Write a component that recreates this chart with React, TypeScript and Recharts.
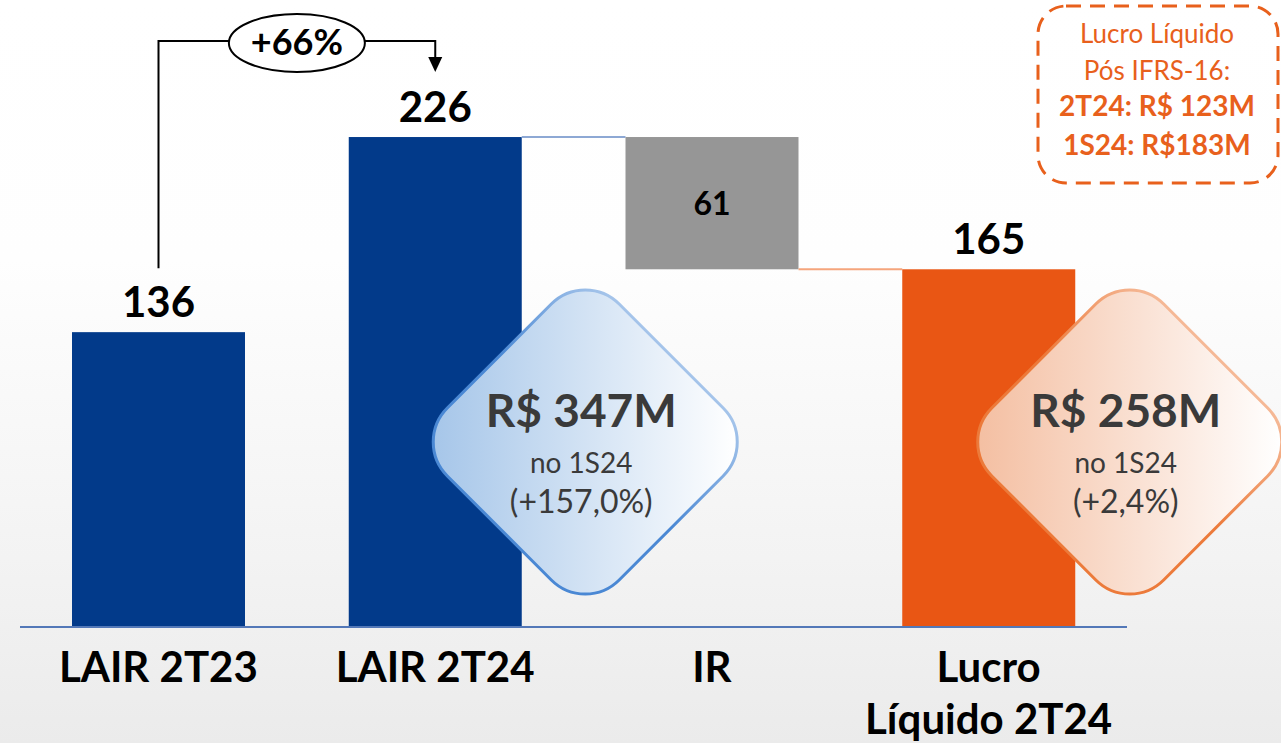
import React from 'react';
import { BarChart, Bar, XAxis, YAxis, LabelList } from 'recharts';

const categories = ['LAIR 2T23', 'LAIR 2T24', 'IR', 'Lucro\nLíquido 2T24'];
const values = [136, 226, 61, 165];
const bases = [0, 0, 165, 0];
const barColors = ['#023A8A', '#023A8A', '#969696', '#E95614'];
const growthLabel = '+66%';
const highlights = [
    { index: 1, title: 'R$ 347M', sub: 'no 1S24', change: '(+157,0%)', tone: 'blue' },
    { index: 3, title: 'R$ 258M', sub: 'no 1S24', change: '(+2,4%)', tone: 'orange' },
];
const noteLines = ['Lucro Líquido', 'Pós IFRS-16:', '2T24: R$ 123M', '1S24: R$183M'];

const data = categories.map((name, i) => ({ name, base: bases[i], value: values[i] }));

const W = 1281, H = 743;
const MARGIN = { top: 85, right: 154, bottom: 0, left: 20 };
const BAND = (W - MARGIN.left - MARGIN.right) / categories.length;
const FONT = "Lato, 'Open Sans', sans-serif";

const tones: any = {
    blue: { fill: '#A6C6E9', stroke: '#4A88D4', soft: '#EAF2FB' },
    orange: { fill: '#F4BFA2', stroke: '#EC7A3A', soft: '#FCE8DC' },
};

// rounded diamond, drawn in screen space so the gradients stay horizontal
const diamondPath = (cx: number, cy: number, ext: number, r: number) => {
    const R = ext + r * (Math.SQRT2 - 1);
    const V = [[cx, cy - R], [cx + R, cy], [cx, cy + R], [cx - R, cy]];
    const pt = (a: number[], b: number[]) => {
        const dx = b[0] - a[0], dy = b[1] - a[1], L = Math.hypot(dx, dy);
        return `${a[0] + dx / L * r},${a[1] + dy / L * r}`;
    };
    let d = '';
    for (let i = 0; i < 4; i++) {
        const v = V[i], prev = V[(i + 3) % 4], next = V[(i + 1) % 4];
        d += (i === 0 ? 'M' : 'L') + pt(v, prev) + ` A${r},${r} 0 0 1 ` + pt(v, next) + ' ';
    }
    return d + 'Z';
};

const Diamond = ({ cx, cy, h }: any) => {
    const t = tones[h.tone];
    const id = 'dm' + h.index;
    return (
        <g>
            <defs>
                <linearGradient id={id + 'f'} x1="0" y1="0" x2="1" y2="0">
                    <stop offset="0%" stopColor={t.fill} />
                    <stop offset="100%" stopColor="#FFFFFF" />
                </linearGradient>
                <linearGradient id={id + 's'} x1="0" y1="1" x2="1" y2="0">
                    <stop offset="0%" stopColor={t.stroke} />
                    <stop offset="50%" stopColor={t.stroke} />
                    <stop offset="100%" stopColor={t.soft} />
                </linearGradient>
            </defs>
            <path d={diamondPath(cx, cy, 152, 48)} fill={`url(#${id}f)`} stroke={`url(#${id}s)`} strokeWidth={3} />
            <text x={cx - 4} y={cy - 15} textAnchor="middle" fontFamily={FONT} fontWeight={700} fontSize={46} fill="#3A3A3A">{h.title}</text>
            <text x={cx - 4} y={cy + 31} textAnchor="middle" fontFamily={FONT} fontSize={28} fill="#3A3A3A">{h.sub}</text>
            <text x={cx - 4} y={cy + 71} textAnchor="middle" fontFamily={FONT} fontSize={32} fill="#3A3A3A">{h.change}</text>
        </g>
    );
};

const WaterfallBar = (props: any) => {
    const { x, y, width, height, index } = props;
    const gap = BAND - width;
    return (
        <g>
            <rect x={x} y={y} width={width} height={height} fill={barColors[index]} />
            {index === 1 && <line x1={x + width} y1={y} x2={x + width + gap} y2={y} stroke="#8DA8D4" strokeWidth={2} />}
            {index === 2 && <line x1={x + width} y1={y + height} x2={x + width + gap} y2={y + height} stroke="#F5A57C" strokeWidth={2} />}
        </g>
    );
};

const ValueLabel = (props: any) => {
    const vb = props.viewBox || props;
    const { x, y, width, height } = vb;
    const { index, value } = props;
    const cx = x + width / 2;
    const hl = highlights.find((h) => h.index === index);
    let growth = null;
    if (index === 0) {
        const cx1 = cx + BAND, lineY = 41, tip = 72;
        growth = (
            <g>
                <path d={`M${cx},${y - 64} V${lineY} H${cx1} V${tip - 14}`} fill="none" stroke="#000" strokeWidth={2} />
                <polygon points={`${cx1 - 7},${tip - 15} ${cx1 + 7},${tip - 15} ${cx1},${tip}`} fill="#000" />
                <ellipse cx={(cx + cx1) / 2} cy={43} rx={68} ry={29} fill="#fff" stroke="#000" strokeWidth={2} />
                <text x={(cx + cx1) / 2} y={55} textAnchor="middle" fontFamily={FONT} fontWeight={700} fontSize={36} fill="#000">{growthLabel}</text>
            </g>
        );
    }
    const inside = bases[index] > 0;
    return (
        <g>
            {growth}
            <text x={cx} y={inside ? y + height / 2 + 12 : y - 15} textAnchor="middle" fontFamily={FONT} fontWeight={700}
                fontSize={inside ? 32 : 42} fill="#000">{value}</text>
            {hl && <Diamond cx={cx + (index === 1 ? 150 : 141)} cy={442} h={hl} />}
        </g>
    );
};

const CategoryTick = ({ x, y, payload }: any) => {
    const lines = String(payload.value).split('\n');
    return (
        <text x={x} y={y} textAnchor="middle" fontFamily={FONT} fontWeight={700} fontSize={42} fill="#000">
            {lines.map((l, i) => <tspan key={i} x={x} dy={i === 0 ? 55 : 52}>{l}</tspan>)}
        </text>
    );
};

export default function App() {
    return (
        <div style={{ position: 'absolute', left: 0, top: 0, width: W, height: H, overflow: 'hidden',
            background: 'linear-gradient(to bottom, #ffffff 0%, #fefefe 35%, #f3f3f3 75%, #ebebeb 100%)' }}>
            <BarChart width={W} height={H} data={data} margin={MARGIN} barSize={173}>
                <XAxis dataKey="name" axisLine={{ stroke: '#5378B8', strokeWidth: 2 }} tickLine={false} tickSize={0} tickMargin={0}
                    height={116} interval={0} tick={<CategoryTick />} />
                <YAxis hide domain={[0, 250]} />
                <Bar dataKey="base" stackId="a" fill="transparent" isAnimationActive={false} />
                <Bar dataKey="value" stackId="a" shape={<WaterfallBar />} isAnimationActive={false}>
                    <LabelList dataKey="value" content={<ValueLabel />} />
                </Bar>
            </BarChart>
            <svg width={W} height={H} style={{ position: 'absolute', left: 0, top: 0, pointerEvents: 'none' }}>
                <rect x={1038} y={6} width={240} height={177} rx={28} fill="none" stroke="#E8601C" strokeWidth={3} strokeDasharray="15 9" />
                {noteLines.map((l, i) => (
                    <text key={i} x={1157} y={[43, 80, 116, 155][i]} textAnchor="middle" fontFamily={FONT}
                        fontWeight={i < 2 ? 400 : 700} fontSize={i < 2 ? 26 : 28} fill="#E8601C">{l}</text>
                ))}
            </svg>
        </div>
    );
}
